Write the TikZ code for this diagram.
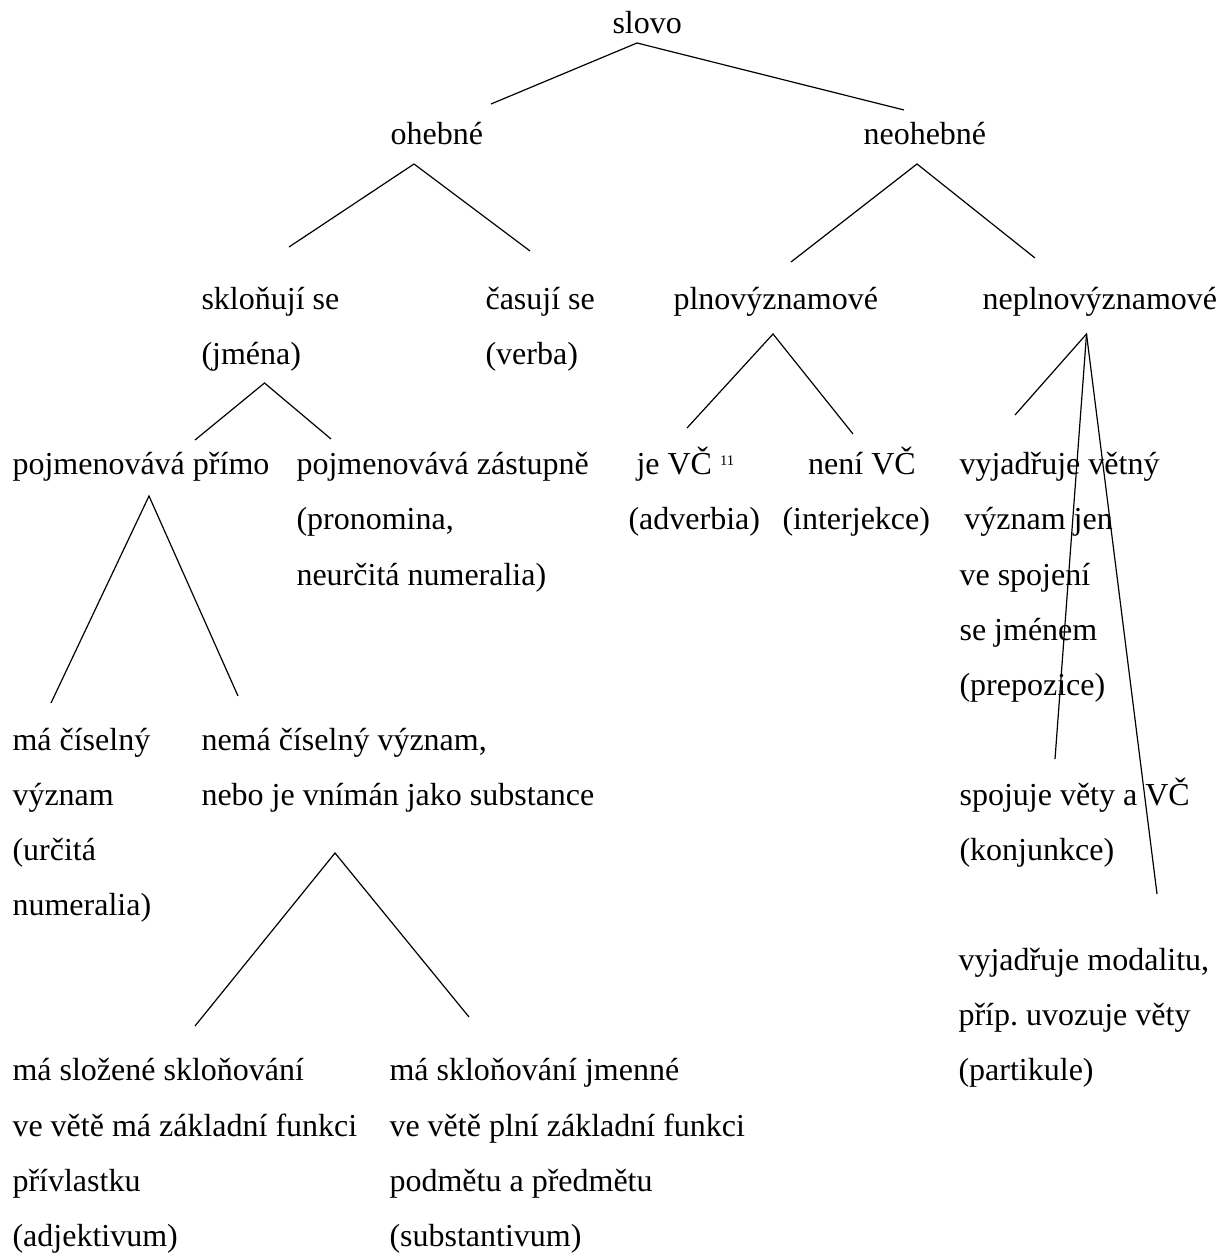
\documentclass[tikz,border=0pt]{standalone}
\usepackage{fontspec}
\setmainfont{Liberation Serif}
\usetikzlibrary{positioning}
\frenchspacing

\begin{document}
\begin{tikzpicture}[x=0.375pt, y=-0.375pt]
                \tikzstyle{every node}+=[inner sep=0pt]
                \tikzstyle{word}=[anchor=base west, align=left, font=\fontsize{12}{20.66}\selectfont]
                \tikzstyle{branch}=[black, line width=0.45pt]
                \useasboundingbox (0,0) rectangle (1220,1257);
                % words (y = baseline of the last line)
                \node [word] (slovo) at (612,34) {slovo};
                \node [word] (ohebne) at (390,144.2) {ohebné};
                \node [word] (neohebne) at (863,144.2) {neohebné};
                \node [word] (sklonuji) at (201,309.5+55.1) {skloňují se\\(jména)};
                \node [word] (casuji) at (485,309.5+55.1) {časují se\\(verba)};
                \node [word] (plno) at (673,309.5) {plnovýznamové};
                \node [word] (neplno) at (982,309.5) {neplnovýznamové};
                \node [word] (primo) at (12,474.8) {pojmenovává přímo};
                \node [word] (zastupne) at (296,474.8+2*55.1) {pojmenovává zástupně\\(pronomina,\\neurčitá numeralia)};
                \node [word] (jevc) at (628,474.8+55.1) {\hspace*{0.25em}je VČ \raisebox{3.4pt}{\fontsize{5.5}{6}\selectfont 11}\\(adverbia)};
                \node [word] (nenivc) at (782,474.8+55.1) {\hspace*{0.8em}není VČ\\(interjekce)};
                \node [word] (prepozice) at (959,474.8+4*55.1) {vyjadřuje větný\\\hspace*{0.15em}význam jen\\ve spojení\\se jménem\\(prepozice)};
                \node [word] (ciselny) at (12,750.3+3*55.1) {má číselný\\význam\\(určitá\\numeralia)};
                \node [word] (neciselny) at (201,750.3+55.1) {nemá číselný význam,\\nebo je vnímán jako substance};
                \node [word] (konjunkce) at (959,805.4+55.1) {spojuje věty a VČ\\(konjunkce)};
                \node [word] (partikule) at (958,970.7+2*55.1) {vyjadřuje modalitu,\\příp. uvozuje věty\\(partikule)};
                \node [word] (adjektivum) at (12,1080.9+3*55.1) {má složené skloňování\\ve větě má základní funkci\\přívlastku\\(adjektivum)};
                \node [word] (substantivum) at (389,1080.9+3*55.1) {má skloňování jmenné\\ve větě plní základní funkci\\podmětu a předmětu\\(substantivum)};
                % branch points
                \coordinate (slovo-v) at (637,43);
                \coordinate (slovo-l) at (491,104);
                \coordinate (slovo-r) at (904,110);
                \coordinate (ohebne-v) at (414,164);
                \coordinate (ohebne-l) at (289,247);
                \coordinate (ohebne-r) at (530,251);
                \coordinate (neohebne-v) at (917,164);
                \coordinate (neohebne-l) at (791,262);
                \coordinate (neohebne-r) at (1035,258);
                \coordinate (jmena-v) at (264.5,383);
                \coordinate (jmena-l) at (195,440);
                \coordinate (jmena-r) at (331,439);
                \coordinate (plno-v) at (773,334);
                \coordinate (plno-l) at (687,428);
                \coordinate (plno-r) at (853,434);
                \coordinate (neplno-v) at (1086.5,334);
                \coordinate (neplno-l) at (1015,415);
                \coordinate (neplno-m) at (1055,759);
                \coordinate (neplno-r) at (1157,894);
                \coordinate (primo-v) at (149,496);
                \coordinate (primo-l) at (51,703);
                \coordinate (primo-r) at (238,696);
                \coordinate (nema-v) at (335,853);
                \coordinate (nema-l) at (195,1026);
                \coordinate (nema-r) at (469,1017);
                % branches
                \draw [branch] (slovo-l) -- (slovo-v) -- (slovo-r);
                \draw [branch] (ohebne-l) -- (ohebne-v) -- (ohebne-r);
                \draw [branch] (neohebne-l) -- (neohebne-v) -- (neohebne-r);
                \draw [branch] (jmena-l) -- (jmena-v) -- (jmena-r);
                \draw [branch] (plno-l) -- (plno-v) -- (plno-r);
                \draw [branch] (neplno-l) -- (neplno-v) -- (neplno-r);
                \draw [branch] (neplno-v) -- (neplno-m);
                \draw [branch] (primo-l) -- (primo-v) -- (primo-r);
                \draw [branch] (nema-l) -- (nema-v) -- (nema-r);
\end{tikzpicture}
\end{document}
